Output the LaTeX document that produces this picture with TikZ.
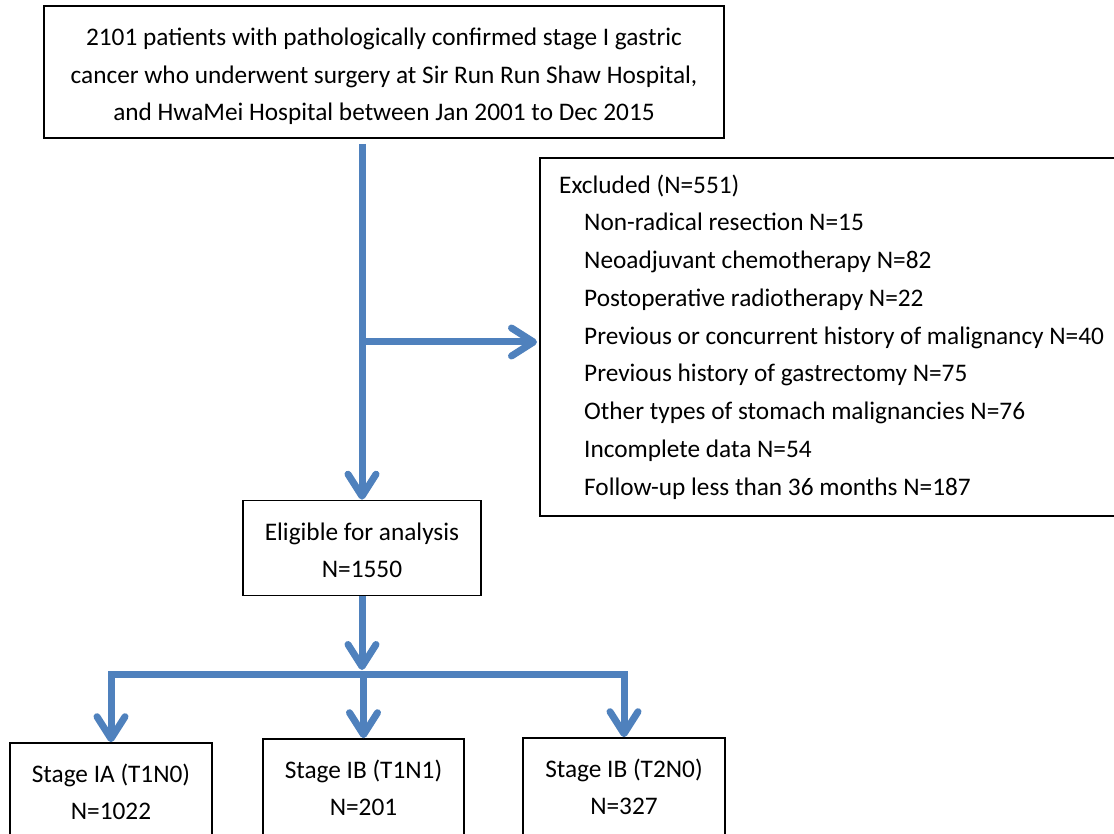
\documentclass[tikz,border=0pt]{standalone}
\usepackage{fontspec}
\setmainfont{Carlito}
\usetikzlibrary{arrows.meta}
\definecolor{flowblue}{HTML}{4F81BD}
\begin{document}
\begin{tikzpicture}[x=1pt,y=-1pt,
  box/.style={draw=black, line width=1.6pt, inner sep=0pt, align=center,
    font=\fontsize{25.3}{37.5}\selectfont},
  bline/.style={draw=flowblue, line width=7pt},
  flow/.style={bline, -{Straight Barb[length=22pt,width=28pt,round]}},
  txt/.style={inner sep=0pt, align=left, font=\fontsize{25.3}{37.75}\selectfont},
]
\useasboundingbox (0,0) rectangle (1114,834);
\clip (0,0) rectangle (1114,834);

\node[box, minimum width=680pt, minimum height=132pt] (top) at (384,72)
  {\rule{0pt}{27pt}2101 patients with pathologically confirmed stage I gastric\\
   cancer who underwent surgery at Sir Run Run Shaw Hospital,\\
   and HwaMei Hospital between Jan 2001 to Dec 2015};

\node[box, minimum width=700pt, minimum height=358pt, anchor=north west] (excl) at (539,157) {};
\node[txt, anchor=base west] (excltext) at (559,495)
  {Excluded (N=551)\\
   \hspace*{25pt}Non-radical resection N=15\\
   \hspace*{25pt}Neoadjuvant chemotherapy N=82\\
   \hspace*{25pt}Postoperative radiotherapy N=22\\
   \hspace*{25pt}Previous or concurrent history of malignancy N=40\\
   \hspace*{25pt}Previous history of gastrectomy N=75\\
   \hspace*{25pt}Other types of stomach malignancies N=76\\
   \hspace*{25pt}Incomplete data N=54\\
   \hspace*{25pt}Follow-up less than 36 months N=187};

\node[box, minimum width=238pt, minimum height=95pt] (elig) at (362,548)
  {\rule{0pt}{22pt}Eligible for analysis\\N=1550};

\node[box, minimum width=202pt, minimum height=98pt] (s1) at (111,792)
  {Stage IA (T1N0)\\N=1022};
\node[box, minimum width=201pt, minimum height=98pt] (s2) at (363.5,788)
  {Stage IB (T1N1)\\N=201};
\node[box, minimum width=202pt, minimum height=98pt] (s3) at (624,787)
  {Stage IB (T2N0)\\N=327};

\coordinate (br) at (elig.north |- 0,342);
\coordinate (split) at (elig.south |- 0,674);

\draw[flow] ([yshift=-5pt]top.south -| elig.north) -- (elig.north);
\draw[flow, shorten >=2pt] (br) -- (excl.west |- br);
\draw[flow, shorten >=4pt] (elig.south) -- (split);
\draw[flow] (split) -| (s1.north);
\draw[flow] (split) -| (s3.north);
\draw[flow] (s2.north |- split) -- (s2.north);
\end{tikzpicture}
\end{document}
